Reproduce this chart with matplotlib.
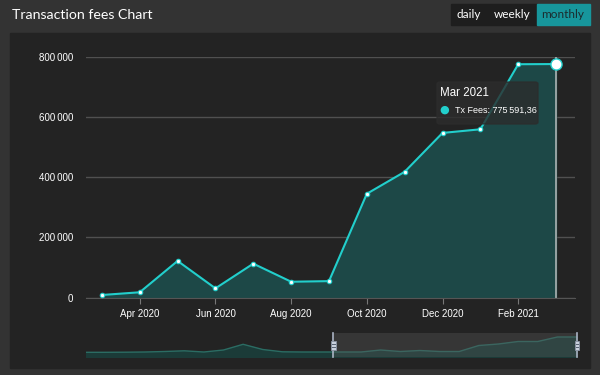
import matplotlib.pyplot as plt
from matplotlib.patches import Rectangle, FancyBboxPatch

# monthly transaction fees (Mar 2020 .. Mar 2021)
months = ["Mar 2020", "Apr 2020", "May 2020", "Jun 2020", "Jul 2020", "Aug 2020",
          "Sep 2020", "Oct 2020", "Nov 2020", "Dec 2020", "Jan 2021", "Feb 2021", "Mar 2021"]
fees = [9000, 18000, 122000, 31000, 113000, 53000, 55000,
        345000, 418000, 547000, 559000, 775000, 775591.36]
tick_idx = [1, 3, 5, 7, 9, 11]
tick_labels = ["Apr 2020", "Jun 2020", "Aug 2020", "Oct 2020", "Dec 2020", "Feb 2021"]
yticks = [0, 200000, 400000, 600000, 800000]

# navigator overview series (relative heights)
nav_vals = [4.7, 4.7, 4.8, 5, 5.5, 6.2, 5, 7, 12.7, 7.5, 5.2, 5, 5, 5, 5, 7,
            5.5, 6.5, 5.5, 5.5, 11.5, 13, 15.5, 15.5, 20, 20]
nav_sel = (12.6, 25.0)

W, H = 600, 375
CYAN = "#22cfcc"
FILL = "#1d4847"

fig = plt.figure(figsize=(6, 3.75), dpi=100)
fig.patch.set_facecolor("#333333")


def box(x0, y0, x1, y1):
    return [x0 / W, 1 - y1 / H, (x1 - x0) / W, (y1 - y0) / H]


# inner panel
fig.patches.append(Rectangle((10 / W, 1 - 368 / H), 580 / W, 335 / H,
                             transform=fig.transFigure, color="#232323", zorder=-10))

# title and range buttons
fig.text(12 / W, 1 - 15 / H, "Transaction fees Chart", family=["Lato", "DejaVu Sans"],
         fontsize=10.2, color="white", va="center", ha="left")
fig.patches.append(Rectangle((451 / W, 1 - 25 / H), 86 / W, 21 / H,
                             transform=fig.transFigure, color="#1e1e1e", zorder=1))
fig.patches.append(Rectangle((537 / W, 1 - 25 / H), 53 / W, 21 / H,
                             transform=fig.transFigure, color="#17969c", zorder=1))
for lbl, x, c in [("daily", 469, "white"), ("weekly", 512, "white"), ("monthly", 563, "#1b2b2d")]:
    fig.text(x / W, 1 - 15 / H, lbl, family=["Lato", "DejaVu Sans"], fontsize=8.5,
             color=c, ha="center", va="center", zorder=2)

# main chart
ax = fig.add_axes(box(86, 56.7, 575, 297.7))
ax.set_facecolor("none")
x = list(range(len(fees)))
ax.fill_between(x, fees, 0, color=FILL, zorder=1)
ax.plot(x, fees, color=CYAN, lw=1.5, zorder=3)
ax.plot(x[:-1], fees[:-1], "o", ms=3.2, mfc="white", mec=CYAN, mew=0.8, zorder=4)
ax.axvline(x[-1], color="#a0aaaa", lw=1.3, zorder=2)
ax.plot(x[-1], fees[-1], "o", ms=8, mfc="white", mec=CYAN, mew=1, zorder=5, clip_on=False)
ax.set_xlim(-0.42, 12.5)
ax.set_ylim(0, 800000)
ax.set_yticks(yticks)
ax.set_yticklabels(["0" if v == 0 else f"{v // 1000}\u2009000" for v in yticks])
ax.set_xticks(tick_idx)
ax.set_xticklabels(tick_labels)
ax.grid(axis="y", color="#505050", lw=1)
ax.set_axisbelow(True)
for s in ["top", "right", "left"]:
    ax.spines[s].set_visible(False)
ax.spines["bottom"].set_color("#555555")
ax.tick_params(axis="y", length=0, pad=9, labelsize=7, labelcolor="white")
ax.tick_params(axis="x", length=4, color="#777777", pad=4, labelsize=7, labelcolor="white")
for t in ax.get_xticklabels() + ax.get_yticklabels():
    t.set_family(["Liberation Sans", "DejaVu Sans"])

# tooltip
fig.patches.append(FancyBboxPatch((437 / W, 1 - 124 / H), 101 / W, 42 / H,
                                  boxstyle="round,pad=0,rounding_size=0.005",
                                  transform=fig.transFigure, color="#2c2c2c", alpha=0.8, zorder=6))
fig.text(440 / W, 1 - 93 / H, months[-1], fontsize=8.3, color="white", va="center",
         family=["Liberation Sans", "DejaVu Sans"], zorder=7)
fig.text(444 / W, 1 - 110 / H, "\u25CF", fontsize=8, color=CYAN, va="center", ha="center", zorder=7)
fig.text(455 / W, 1 - 110 / H, "Tx Fees: 775\u2009591,36", fontsize=6.5, color="white", va="center",
         family=["Liberation Sans", "DejaVu Sans"], zorder=7)

# navigator
nav = fig.add_axes(box(86, 333, 577, 357))
nav.set_facecolor("none")
nx = list(range(len(nav_vals)))
nav.fill_between(nx, nav_vals, 0, color="#1b3b38", zorder=1)
nav.plot(nx, nav_vals, color="#2b6c63", lw=1, zorder=2)
nav.axvspan(nav_sel[0], nav_sel[1], color="#5a5a5a", alpha=0.35, zorder=3, lw=0)
nav.set_xlim(0, len(nav_vals) - 1)
nav.set_ylim(0, 24)
nav.axis("off")
for hx in nav_sel:
    nav.axvline(hx, color="#aab4c4", lw=1.2, zorder=4, clip_on=False)
    nav.add_patch(Rectangle((hx - 0.12, 7.5), 0.24, 9, facecolor="#c8d0dc", edgecolor="#8892a2",
                            lw=0.6, zorder=5, clip_on=False))
    for hy in (10.5, 13.5):
        nav.plot([hx - 0.07, hx + 0.07], [hy, hy], color="#556070", lw=0.7, zorder=6, clip_on=False)

fig.savefig("out.png", dpi=100, facecolor=fig.get_facecolor())
